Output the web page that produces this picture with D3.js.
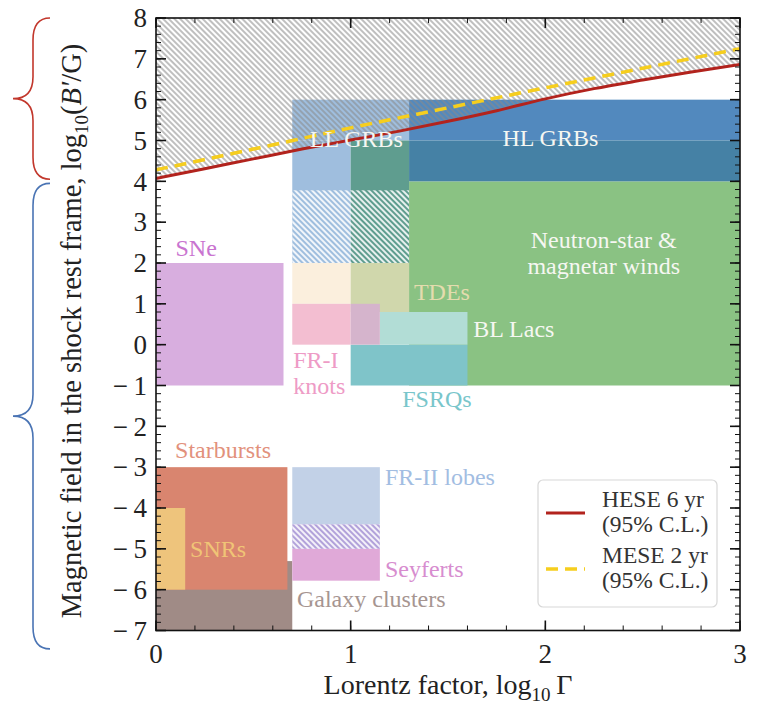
<!DOCTYPE html>
<html>
<head>
<meta charset="utf-8">
<script src="https://cdn.jsdelivr.net/npm/d3@7"></script>
<style>
  html, body { margin: 0; padding: 0; background: #fff; }
  svg { display: block; }
  svg text { font-family: "Liberation Serif", "Times New Roman", serif; }
</style>
</head>
<body>
<svg id="chart" width="760" height="707"></svg>
<script>
// Axes: x = log10 of the Lorentz factor, y = log10 of the comoving field B' in gauss
const xDomain = [0, 3];
const yDomain = [-7, 8];
const xTickValues = [0, 1, 2, 3];
const yTickValues = [8, 7, 6, 5, 4, 3, 2, 1, 0, -1, -2, -3, -4, -5, -6, -7];

// Source regions and their overlaps: [key, xMin, xMax, yMin, yMax] (drawn in order)
const regions = [
  ["sne",        0.00, 0.655, -1.00,  2.00],
  ["clusters",   0.00, 0.700, -7.00, -5.30],
  ["starbursts", 0.00, 0.675, -6.00, -3.00],
  ["snrs",       0.00, 0.150, -6.00, -4.00],
  ["fr2",        0.70, 1.150, -4.40, -3.00],
  ["fr2Sey",     0.70, 1.150, -5.00, -4.40],
  ["seyferts",   0.70, 1.150, -5.78, -5.00],
  ["nsWinds",    1.30, 3.000, -1.00,  4.00],
  ["hlGrb",      1.30, 3.000,  5.00,  6.00],
  ["hlGrbNs",    1.30, 3.000,  4.00,  5.00],
  ["llGrb",      0.70, 1.300,  5.00,  6.00],
  ["llGrb",      0.70, 1.000,  2.00,  5.00],
  ["llGrbNs",    1.00, 1.300,  2.00,  5.00],
  ["tde",        0.70, 1.000,  1.00,  2.00],
  ["tdeNs",      1.00, 1.300,  0.80,  2.00],
  ["fsrq",       1.00, 1.600, -1.00,  0.00],
  ["blLac",      1.15, 1.600,  0.00,  0.80],
  ["fr1",        0.70, 1.000,  0.00,  1.00],
  ["fr1Over",    1.00, 1.150,  0.00,  1.00]
];

// Sub-ranges shown hatched: [xMin, xMax, yMin, yMax]
const hatchedRanges = [
  [0.70, 1.30,  2.00,  3.78],
  [0.70, 1.15, -5.00, -4.40]
];

// Source names: [text lines, x, y of first baseline, colour key, anchor]
const sourceLabels = [
  [["SNe"], 0.10, 2.17, "sne", "start"],
  [["LL GRBs"], 0.79, 4.85, "white", "start"],
  [["HL GRBs"], 1.78, 4.87, "white", "start"],
  [["Neutron-star &", "magnetar winds"], 2.30, 2.37, "white", "middle"],
  [["TDEs"], 1.325, 1.10, "tde", "start"],
  [["BL Lacs"], 1.63, 0.20, "white", "start"],
  [["FR-I", "knots"], 0.705, -0.57, "fr1", "start"],
  [["FSRQs"], 1.265, -1.52, "fsrq", "start"],
  [["Starbursts"], 0.098, -2.78, "starbursts", "start"],
  [["SNRs"], 0.175, -5.19, "snrs", "start"],
  [["FR-II lobes"], 1.176, -3.44, "fr2", "start"],
  [["Seyferts"], 1.176, -5.70, "seyferts", "start"],
  [["Galaxy clusters"], 0.724, -6.42, "clusters", "start"]
];

// Upper limits on B' (95% C.L.)
const heseX = [0, 0.25, 0.5, 0.75, 1.0, 1.25, 1.5, 1.75, 2.0, 2.25, 2.5, 2.75, 3.0];
const heseY = [4.07, 4.31, 4.55, 4.79, 5.01, 5.23, 5.47, 5.73, 6.02, 6.27, 6.48, 6.68, 6.86];
const meseX = [0, 0.5, 1.0, 1.5, 2.0, 2.5, 3.0];
const meseY = [4.28, 4.79, 5.31, 5.80, 6.29, 6.77, 7.25];

const legendItems = [
  ["HESE 6 yr", "(95% C.L.)", "hese"],
  ["MESE 2 yr", "(95% C.L.)", "mese"]
];

const fills = {
  sne: "#d8aedf", clusters: "#a08b86", starbursts: "#d9856f", snrs: "#eec47c",
  fr2: "#c2d1e7", fr2Sey: "#b2a2da", seyferts: "#e0a9d8",
  nsWinds: "#8ac283", hlGrb: "#5289be", hlGrbNs: "#4581a5",
  llGrb: "#9fbede", llGrbNs: "#5f9d8f", tde: "#fbefdd", tdeNs: "#d0d7ac",
  fsrq: "#7fc4c9", blLac: "#b2ddd6", fr1: "#f3bed1", fr1Over: "#d5b4cc"
};
const labelColours = {
  white: "#f6f7f2", sne: "#c974d0", tde: "#e4dcae", fr1: "#ee9bc6", fsrq: "#79c6cb",
  starbursts: "#e2917c", snrs: "#f0c476", fr2: "#a2bde2", seyferts: "#d78dcf",
  clusters: "#a69591"
};
const lineColours = { hese: "#b2231d", mese: "#f6ce1e" };
const serif = "'Liberation Serif', 'Times New Roman', serif";

const svg = d3.select("#chart").attr("font-family", serif);
const plot = { left: 156, right: 740, top: 18, bottom: 630.5 };

const x = d3.scaleLinear().domain(xDomain).range([plot.left, plot.right]);
const y = d3.scaleLinear().domain(yDomain).range([plot.bottom, plot.top]);

const defs = svg.append("defs");
defs.append("clipPath").attr("id", "plotClip")
  .append("rect")
  .attr("x", plot.left).attr("y", plot.top)
  .attr("width", plot.right - plot.left).attr("height", plot.bottom - plot.top);

function stripePattern(id, spacing, colour, width, opacity) {
  const p = defs.append("pattern").attr("id", id)
    .attr("patternUnits", "userSpaceOnUse")
    .attr("width", spacing).attr("height", spacing)
    .attr("patternTransform", "rotate(-45)");
  p.append("line")
    .attr("x1", spacing / 2).attr("y1", -1)
    .attr("x2", spacing / 2).attr("y2", spacing + 1)
    .attr("stroke", colour).attr("stroke-width", width)
    .attr("stroke-opacity", opacity);
}
stripePattern("excludedHatch", 4.0, "#8a8a8a", 1.1, 1);
stripePattern("rangeHatch", 4.0, "#ffffff", 2.0, 0.85);

const g = svg.append("g").attr("clip-path", "url(#plotClip)");

// Source boxes
g.selectAll("rect.region").data(regions).join("rect")
  .attr("class", "region")
  .attr("x", d => x(d[1]))
  .attr("y", d => y(d[4]))
  .attr("width", d => x(d[2]) - x(d[1]))
  .attr("height", d => y(d[3]) - y(d[4]))
  .attr("fill", d => fills[d[0]]);

// Hatched (less certain) parts of the ranges
g.selectAll("rect.hatched").data(hatchedRanges).join("rect")
  .attr("class", "hatched")
  .attr("x", d => x(d[0]))
  .attr("y", d => y(d[3]))
  .attr("width", d => x(d[1]) - x(d[0]))
  .attr("height", d => y(d[2]) - y(d[3]))
  .attr("fill", "url(#rangeHatch)");

// Excluded region above the HESE limit
const heseData = heseX.map((v, i) => [v, heseY[i]]);
const meseData = meseX.map((v, i) => [v, meseY[i]]);

g.append("path")
  .datum(heseData)
  .attr("d", d3.area().curve(d3.curveMonotoneX)
    .x(d => x(d[0])).y0(y(yDomain[1])).y1(d => y(d[1])))
  .attr("fill", "url(#excludedHatch)");

g.append("path")
  .datum(heseData)
  .attr("d", d3.line().curve(d3.curveMonotoneX).x(d => x(d[0])).y(d => y(d[1])))
  .attr("fill", "none").attr("stroke", lineColours.hese).attr("stroke-width", 3);

g.append("path")
  .datum(meseData)
  .attr("d", d3.line().curve(d3.curveMonotoneX).x(d => x(d[0])).y(d => y(d[1])))
  .attr("fill", "none").attr("stroke", lineColours.mese).attr("stroke-width", 3.5)
  .attr("stroke-dasharray", "12,7");

// Source names
const labelG = svg.append("g").attr("font-size", 24).attr("font-family", serif);
sourceLabels.forEach(([lines, lx, ly, col, anchor]) => {
  const t = labelG.append("text")
    .attr("x", x(lx)).attr("y", y(ly))
    .attr("text-anchor", anchor)
    .attr("fill", labelColours[col]);
  lines.forEach((line, i) => {
    t.append("tspan").attr("x", x(lx)).attr("dy", i === 0 ? 0 : 26).text(line);
  });
});

// Frame with inward ticks on all four sides
const frame = svg.append("g");
frame.append("rect")
  .attr("x", plot.left).attr("y", plot.top)
  .attr("width", plot.right - plot.left).attr("height", plot.bottom - plot.top)
  .attr("fill", "none").attr("stroke", "#111").attr("stroke-width", 1.6);

const xMinor = d3.range(0, 3.0001, 0.2);
const yMinor = d3.range(-7, 8.0001, 0.2);
const tickG = frame.append("g").attr("stroke", "#111");
function addTicks(values, isX, len, width) {
  values.forEach(v => {
    if (isX) {
      const px = x(v);
      tickG.append("line").attr("x1", px).attr("x2", px)
        .attr("y1", plot.bottom).attr("y2", plot.bottom - len).attr("stroke-width", width);
      tickG.append("line").attr("x1", px).attr("x2", px)
        .attr("y1", plot.top).attr("y2", plot.top + len).attr("stroke-width", width);
    } else {
      const py = y(v);
      tickG.append("line").attr("y1", py).attr("y2", py)
        .attr("x1", plot.left).attr("x2", plot.left + len).attr("stroke-width", width);
      tickG.append("line").attr("y1", py).attr("y2", py)
        .attr("x1", plot.right).attr("x2", plot.right - len).attr("stroke-width", width);
    }
  });
}
addTicks(xMinor, true, 5, 1);
addTicks(yMinor, false, 5, 1);
addTicks(xTickValues, true, 10, 1.6);
addTicks(yTickValues, false, 10, 1.6);

const fmt = v => (v < 0 ? "\u2212\u2009" + Math.abs(v) : String(v));
const tickText = svg.append("g").attr("font-size", 27).attr("fill", "#222")
  .attr("font-family", serif);
tickText.selectAll("text.xt").data(xTickValues).join("text")
  .attr("class", "xt")
  .attr("x", d => x(d)).attr("y", 663)
  .attr("text-anchor", "middle").text(fmt);
tickText.selectAll("text.yt").data(yTickValues).join("text")
  .attr("class", "yt")
  .attr("x", 147).attr("y", d => y(d))
  .attr("dy", "0.34em")
  .attr("text-anchor", "end").text(fmt);

// Axis titles
const xTitle = svg.append("text")
  .attr("x", (plot.left + plot.right) / 2).attr("y", 694)
  .attr("text-anchor", "middle").attr("font-size", 28).attr("fill", "#222")
  .attr("font-family", serif);
xTitle.append("tspan").text("Lorentz factor, log");
xTitle.append("tspan").attr("font-size", 19).attr("dy", 7).text("10");
xTitle.append("tspan").attr("dy", -7).text("\u2009\u0393");

const yTitle = svg.append("text")
  .attr("transform", "translate(81,331) rotate(-90)")
  .attr("text-anchor", "middle").attr("font-size", 28.5).attr("fill", "#222")
  .attr("font-family", serif);
yTitle.append("tspan").text("Magnetic field in the shock rest frame, log");
yTitle.append("tspan").attr("font-size", 19).attr("dy", 7).text("10");
yTitle.append("tspan").attr("dy", -7).text("(");
yTitle.append("tspan").attr("font-style", "italic").text("B\u2032");
yTitle.append("tspan").text("/G)");

// Braces grouping the field ranges
function bracePath(yTop, yBot, yTip) {
  const xe = 50, xm = 33, xt = 13, r = 22;
  return `M${xe},${yTop} Q${xm},${yTop} ${xm},${yTop + r} L${xm},${yTip - r} ` +
    `Q${xm},${yTip} ${xt},${yTip} Q${xm},${yTip} ${xm},${yTip + r} ` +
    `L${xm},${yBot - r} Q${xm},${yBot} ${xe},${yBot}`;
}
svg.append("path")
  .attr("d", bracePath(y(8), y(4.05), (y(8) + y(4.05)) / 2))
  .attr("fill", "none").attr("stroke", "#c2372c").attr("stroke-width", 1.6);
svg.append("path")
  .attr("d", bracePath(y(3.95), y(-7.45), (y(3.95) + y(-7.45)) / 2))
  .attr("fill", "none").attr("stroke", "#4a74b4").attr("stroke-width", 1.6);

// Legend
const legend = svg.append("g").attr("transform", "translate(538,480)");
legend.append("rect")
  .attr("width", 179).attr("height", 127).attr("rx", 5)
  .attr("fill", "#fff").attr("fill-opacity", 0.92)
  .attr("stroke", "#d8d8d8").attr("stroke-width", 1.2);
legendItems.forEach(([l1, l2, key], i) => {
  const oy = i * 56;
  legend.append("line")
    .attr("x1", 8).attr("x2", 47).attr("y1", 33 + oy).attr("y2", 33 + oy)
    .attr("stroke", lineColours[key])
    .attr("stroke-width", key === "hese" ? 3 : 3.5)
    .attr("stroke-dasharray", key === "mese" ? "12,7" : null);
  const t = legend.append("text").attr("font-size", 23.5).attr("fill", "#333")
    .attr("font-family", serif);
  t.append("tspan").attr("x", 64).attr("y", 27 + oy).text(l1);
  t.append("tspan").attr("x", 64).attr("y", 52 + oy).text(l2);
});
</script>
</body>
</html>
